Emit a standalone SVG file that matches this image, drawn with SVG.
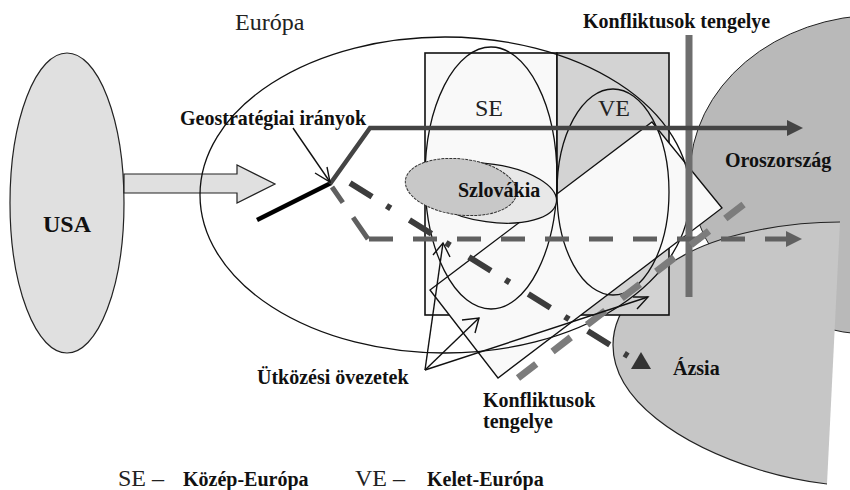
<svg xmlns="http://www.w3.org/2000/svg" width="850" height="490" viewBox="0 0 850 490">
<defs>
<style>
.lbl{font-family:"Liberation Serif","Times New Roman",serif;font-weight:bold;font-size:20px;fill:#111}
.reg{font-family:"Liberation Serif","Times New Roman",serif;font-size:24px;fill:#222}
.thin{fill:none;stroke:#111;stroke-width:1.3}
.arr{fill:none;stroke:#111;stroke-width:1.4}
</style>
</defs>
<rect width="850" height="490" fill="#fff"/>
<g id="oroszorszag">
<ellipse cx="880" cy="175" rx="190" ry="160" fill="#b9b9b9" stroke="#222" stroke-width="1"/>
</g>
<g id="azsia">
<path d="M840,222 C790,222 730,232 690,252 C650,272 613,305 613,345 C613,400 680,445 760,470 C790,479 810,482 827,484 L840,222 Z" fill="#c6c6c6" stroke="none"/>
<path d="M840,222 C790,222 730,232 690,252 C650,272 613,305 613,345 C613,400 680,445 760,470 C790,479 810,482 827,484" fill="none" stroke="#222" stroke-width="1.2"/>
</g>
<g id="usa">
<ellipse cx="67" cy="203" rx="57" ry="150" fill="#e0e0e0" stroke="#222" stroke-width="1.2"/>
<text class="lbl" x="43" y="232" style="font-size:24px">USA</text>
</g>
<g id="usa-arrow">
<polygon points="124,174 237,174 237,165 275,184 237,203 237,193 124,193" fill="#e0e0e0" stroke="#222" stroke-width="1.2"/>
</g>
<g id="se-ve-box">
<rect x="425" y="53" width="132" height="262" fill="#f9f9f9" stroke="#111" stroke-width="1.6"/>
<rect x="557" y="53" width="112" height="262" fill="#d3d3d3" stroke="#111" stroke-width="1.6"/>
</g>
<g id="utkozesi-zona">
<polygon points="430,290 652,122 722,208 498,378" fill="#f9f9f9" stroke="#111" stroke-width="1.3"/>
</g>
<g id="se">
<ellipse class="thin" cx="491" cy="178" rx="66" ry="131"/>
<text class="reg" x="475" y="116">SE</text>
</g>
<g id="ve">
<ellipse class="thin" cx="613" cy="192" rx="56" ry="103"/>
<text class="reg" x="598" y="116">VE</text>
</g>
<g id="szlovakia">
<ellipse cx="490" cy="193" rx="67" ry="29" transform="rotate(8 490 193)" fill="#e8e8e8" stroke="#111" stroke-width="1.2"/>
<ellipse cx="461" cy="187" rx="56" ry="28" transform="rotate(7 461 187)" fill="#c8c8c8" stroke="#333" stroke-width="1" stroke-dasharray="3 1"/>
<text class="lbl" x="458" y="197">Szlovákia</text>
</g>
<g id="europa">
<ellipse class="thin" cx="445" cy="195" rx="245" ry="158"/>
<text class="reg" x="235" y="30">Európa</text>
</g>
<g id="connectors">
<line x1="689" y1="35" x2="689" y2="297" stroke="#6e6e6e" stroke-width="7"/>
<line x1="257" y1="220" x2="331" y2="183" stroke="#000" stroke-width="4.5"/>
<polyline points="330,184 370,128 788,128" fill="none" stroke="#444" stroke-width="4.5"/>
<polygon points="787,120 803,128 787,136" fill="#444"/>
<line x1="332" y1="187" x2="368" y2="239" stroke="#606060" stroke-width="5" stroke-dasharray="19 18 27"/>
<line x1="369" y1="239" x2="790" y2="239" stroke="#606060" stroke-width="5" stroke-dasharray="24 20"/>
<polygon points="786,231 802,239 786,247" fill="#606060"/>
<line x1="350" y1="183" x2="628" y2="356" stroke="#3c3c3c" stroke-width="6" stroke-dasharray="26 17 5 22"/>
<polygon points="631,369 651,369 641,352" fill="#333"/>
<line x1="518" y1="378" x2="748" y2="201" stroke="#7c7c7c" stroke-width="7" stroke-dasharray="23 20.6"/>
<line class="arr" x1="293" y1="128" x2="330" y2="182"/>
<polyline class="arr" points="315,173 330,182 327,167"/>
<line class="arr" x1="425" y1="370" x2="443" y2="243"/>
<polyline class="arr" points="433,255 443,243 450,257"/>
<line class="arr" x1="425" y1="370" x2="479" y2="318"/>
<polyline class="arr" points="462,320 479,318 475,333"/>
<line class="arr" x1="425" y1="370" x2="648" y2="297"/>
<polyline class="arr" points="633,297 648,297 637,309"/>
</g>
<g id="labels">
<text class="lbl" x="583" y="28">Konfliktusok tengelye</text>
<text class="lbl" x="180" y="125">Geostratégiai irányok</text>
<text class="lbl" x="725" y="167">Oroszország</text>
<text class="lbl" x="673" y="375">Ázsia</text>
<text class="lbl" x="257" y="384">Ütközési övezetek</text>
<text class="lbl" x="483" y="407">Konfliktusok</text>
<text class="lbl" x="483" y="428">tengelye</text>
<text class="reg" x="118" y="486">SE –</text>
<text class="lbl" x="183" y="486">Közép-Európa</text>
<text class="reg" x="355" y="486">VE –</text>
<text class="lbl" x="427" y="486">Kelet-Európa</text>
</g>
</svg>
